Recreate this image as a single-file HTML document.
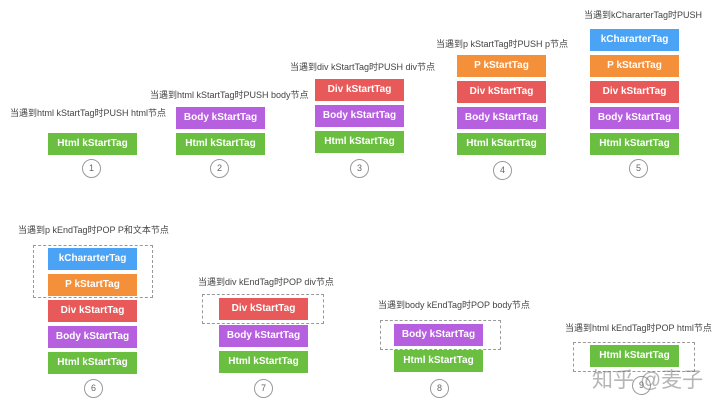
<!DOCTYPE html>
<html><head><meta charset="utf-8"><style>
body{margin:0;width:720px;height:404px;background:#fff;position:relative;overflow:hidden;font-family:"Liberation Sans","Noto Sans CJK SC",sans-serif}
.b{position:absolute;width:89px;height:22px;color:#fff;font-weight:bold;font-size:10px;line-height:22px;text-align:center}
.g{background:#6abf40}.p{background:#b660e0}.r{background:#e85a5a}.o{background:#f39039}.u{background:#4aa3f5}
.l{position:absolute;font-size:9px;color:#444;white-space:nowrap;line-height:12px}
.c{position:absolute;width:17px;height:17px;border:1px solid #999;border-radius:50%;font-size:9px;color:#666;text-align:center;line-height:17px}
.d{position:absolute;border:1px dashed #999}
</style></head><body>
<div class="l" style="left:10px;top:107px">当遇到html kStartTag时PUSH html节点</div>
<div class="b g" style="left:48px;top:133px">Html kStartTag</div>
<div class="c" style="left:82px;top:159px">1</div>

<div class="l" style="left:150px;top:89px">当遇到html kStartTag时PUSH body节点</div>
<div class="b p" style="left:176px;top:107px">Body kStartTag</div>
<div class="b g" style="left:176px;top:133px">Html kStartTag</div>
<div class="c" style="left:210px;top:159px">2</div>

<div class="l" style="left:290px;top:61px">当遇到div kStartTag时PUSH div节点</div>
<div class="b r" style="left:315px;top:79px">Div kStartTag</div>
<div class="b p" style="left:315px;top:105px">Body kStartTag</div>
<div class="b g" style="left:315px;top:131px">Html kStartTag</div>
<div class="c" style="left:350px;top:159px">3</div>

<div class="l" style="left:436px;top:38px">当遇到p kStartTag时PUSH p节点</div>
<div class="b o" style="left:457px;top:55px">P kStartTag</div>
<div class="b r" style="left:457px;top:81px">Div kStartTag</div>
<div class="b p" style="left:457px;top:107px">Body kStartTag</div>
<div class="b g" style="left:457px;top:133px">Html kStartTag</div>
<div class="c" style="left:493px;top:161px">4</div>

<div class="l" style="left:584px;top:9px">当遇到kChararterTag时PUSH</div>
<div class="b u" style="left:590px;top:29px">kChararterTag</div>
<div class="b o" style="left:590px;top:55px">P kStartTag</div>
<div class="b r" style="left:590px;top:81px">Div kStartTag</div>
<div class="b p" style="left:590px;top:107px">Body kStartTag</div>
<div class="b g" style="left:590px;top:133px">Html kStartTag</div>
<div class="c" style="left:629px;top:159px">5</div>

<div class="l" style="left:18px;top:224px">当遇到p kEndTag时POP P和文本节点</div>
<div class="d" style="left:33px;top:245px;width:118px;height:51px"></div>
<div class="b u" style="left:48px;top:248px">kChararterTag</div>
<div class="b o" style="left:48px;top:274px">P kStartTag</div>
<div class="b r" style="left:48px;top:300px">Div kStartTag</div>
<div class="b p" style="left:48px;top:326px">Body kStartTag</div>
<div class="b g" style="left:48px;top:352px">Html kStartTag</div>
<div class="c" style="left:84px;top:379px">6</div>

<div class="l" style="left:198px;top:276px">当遇到div kEndTag时POP div节点</div>
<div class="d" style="left:202px;top:294px;width:120px;height:28px"></div>
<div class="b r" style="left:219px;top:298px">Div kStartTag</div>
<div class="b p" style="left:219px;top:325px">Body kStartTag</div>
<div class="b g" style="left:219px;top:351px">Html kStartTag</div>
<div class="c" style="left:254px;top:379px">7</div>

<div class="l" style="left:378px;top:299px">当遇到body kEndTag时POP body节点</div>
<div class="d" style="left:380px;top:320px;width:119px;height:28px"></div>
<div class="b p" style="left:394px;top:324px">Body kStartTag</div>
<div class="b g" style="left:394px;top:350px">Html kStartTag</div>
<div class="c" style="left:430px;top:379px">8</div>

<div class="l" style="left:565px;top:322px">当遇到html kEndTag时POP html节点</div>
<div class="d" style="left:573px;top:342px;width:120px;height:28px"></div>
<div class="b g" style="left:590px;top:345px">Html kStartTag</div>
<div class="c" style="left:632px;top:376px">9</div>
<div style="position:absolute;left:592px;top:364px;font-size:21px;color:rgba(120,120,120,0.55);white-space:nowrap">知乎 @麦子</div>
</body></html>
